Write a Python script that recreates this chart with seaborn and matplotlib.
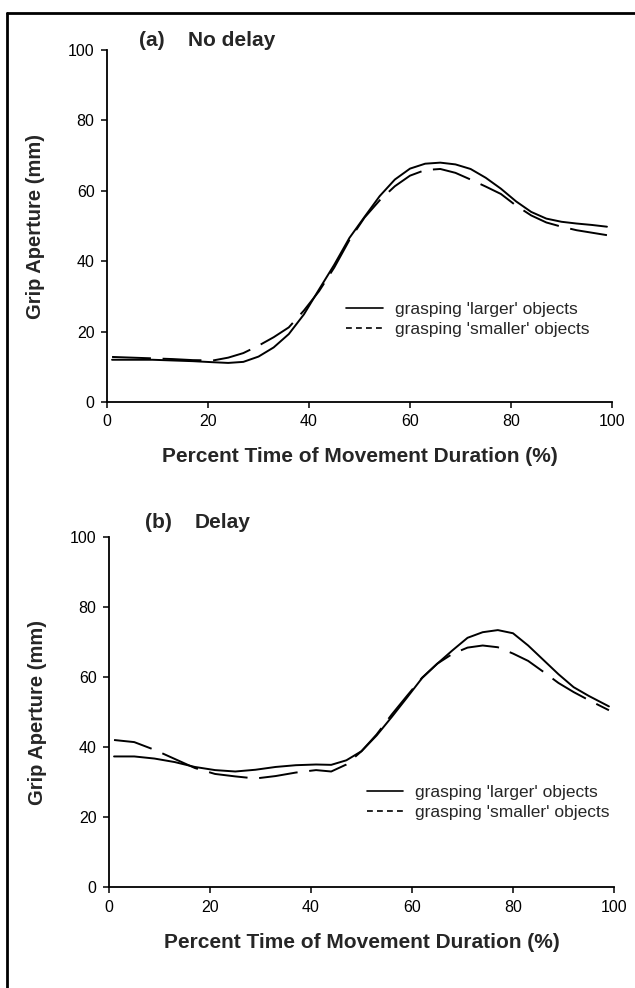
import numpy as np
import pandas as pd
import matplotlib
matplotlib.use("Agg")
import matplotlib.pyplot as plt
from matplotlib.lines import Line2D
import seaborn as sns

# (a) no delay
time_a = [1, 5, 9, 13, 17, 21, 24, 27, 30, 33, 36, 39, 42, 45, 48, 51,
          54, 57, 60, 63, 66, 69, 72, 75, 78, 81, 84, 87, 90, 93, 96, 99]
larger_a = [12.0, 12.0, 12.0, 11.8, 11.6, 11.3, 11.1, 11.4, 12.9, 15.5, 19.3, 24.9,
            32.0, 39.0, 46.6, 52.6, 58.5, 63.2, 66.3, 67.7, 68.0, 67.5, 66.2, 63.7,
            60.6, 57.0, 54.0, 52.1, 51.2, 50.7, 50.3, 49.8]
smaller_a = [12.8, 12.6, 12.4, 12.2, 11.9, 11.8, 12.6, 13.9, 16.0, 18.4, 21.2, 26.0,
             31.5, 38.2, 46.0, 52.4, 57.3, 61.3, 64.3, 65.9, 66.2, 65.1, 63.2, 61.2,
             59.1, 55.8, 53.0, 51.0, 49.8, 48.8, 48.1, 47.4]

# (b) delay
time_b = [1, 5, 9, 13, 17, 21, 25, 29, 33, 37, 41, 44, 47, 50, 53, 56,
          59, 62, 65, 68, 71, 74, 77, 80, 83, 86, 89, 92, 95, 99]
larger_b = [37.3, 37.3, 36.7, 35.7, 34.3, 33.4, 33.0, 33.5, 34.3, 34.8, 35.0, 34.9,
            36.2, 38.8, 43.3, 48.6, 54.1, 59.7, 63.8, 67.6, 71.2, 72.8, 73.4, 72.5,
            69.0, 64.9, 60.8, 57.1, 54.6, 51.6]
smaller_b = [42.0, 41.4, 39.2, 36.6, 34.0, 32.3, 31.6, 31.0, 31.7, 32.7, 33.4, 33.0,
             35.0, 38.8, 43.6, 49.3, 54.6, 59.8, 63.8, 66.6, 68.4, 69.0, 68.5, 66.7,
             64.6, 61.5, 58.3, 55.7, 53.4, 50.5]

labels = ["grasping 'larger' objects", "grasping 'smaller' objects"]
ticks = [0, 20, 40, 60, 80, 100]

sns.set_style("ticks")
plt.rcParams['font.family'] = ['Liberation Sans', 'DejaVu Sans']


def make_df(t, big, small):
    return pd.DataFrame({
        'time': list(t) * 2,
        'aperture': list(big) + list(small),
        'object': ['larger'] * len(t) + ['smaller'] * len(t),
    })


def draw_panel(ax, df, tag, name, tag_x, name_x, title_y, leg_anchor, xlab_y):
    sns.lineplot(data=df, x='time', y='aperture', style='object',
                 dashes={'larger': '', 'smaller': (20, 6)},
                 color='black', linewidth=1.4, legend=False, ax=ax)
    for ln in ax.lines:
        ln.set_solid_joinstyle('round')
        ln.set_dash_joinstyle('round')
    ax.set_xlim(0, 100)
    ax.set_ylim(0, 100)
    ax.set_xticks(ticks)
    ax.set_yticks(ticks)
    ax.tick_params(direction='out', length=4, width=1.1, pad=5,
                   labelsize=11.5, color='black', labelcolor='black')
    for s in ['left', 'bottom']:
        ax.spines[s].set_linewidth(1.3)
        ax.spines[s].set_color('black')
    sns.despine(ax=ax)
    ax.set_xlabel('Percent Time of Movement Duration (%)', fontsize=15, fontweight='bold')
    ax.set_ylabel('Grip Aperture (mm)', fontsize=14.5, fontweight='bold')
    ax.xaxis.set_label_coords(0.5, xlab_y)
    ax.yaxis.set_label_coords(-0.123, 0.5)

    handles = [Line2D([], [], color='black', lw=1.2),
               Line2D([], [], color='black', lw=1.2, dashes=(3.5, 2.5))]
    ax.legend(handles, labels, loc='center left', bbox_to_anchor=leg_anchor,
              frameon=False, fontsize=12.5, handlelength=2.1, handletextpad=0.7,
              borderpad=0, borderaxespad=0, labelspacing=0.25)

    fig.text(tag_x / 635, 1 - title_y / 988, tag, fontsize=15, fontweight='bold', va='center')
    fig.text(name_x / 635, 1 - title_y / 988, name, fontsize=15, fontweight='bold', va='center')


fig = plt.figure(figsize=(6.35, 9.88), dpi=100)
ax_a = fig.add_axes([107 / 635, 1 - 402 / 988, 505 / 635, 352 / 988])
ax_b = fig.add_axes([109 / 635, 1 - 887 / 988, 505 / 635, 350 / 988])

draw_panel(ax_a, make_df(time_a, larger_a, smaller_a), '(a)', 'No delay',
           139, 188, 40, (0.474, 0.234), -0.128)
draw_panel(ax_b, make_df(time_b, larger_b, smaller_b), '(b)', 'Delay',
           145, 195, 522, (0.51, 0.241), -0.132)

# frame around the figure (only left and top edges visible)
fig.add_artist(Line2D([7 / 635, 7 / 635], [0, 1 - 13 / 988], color='black', lw=2,
                      transform=fig.transFigure))
fig.add_artist(Line2D([7 / 635, 1], [1 - 13 / 988, 1 - 13 / 988], color='black', lw=2,
                      transform=fig.transFigure))

fig.savefig('out.png', dpi=100)
